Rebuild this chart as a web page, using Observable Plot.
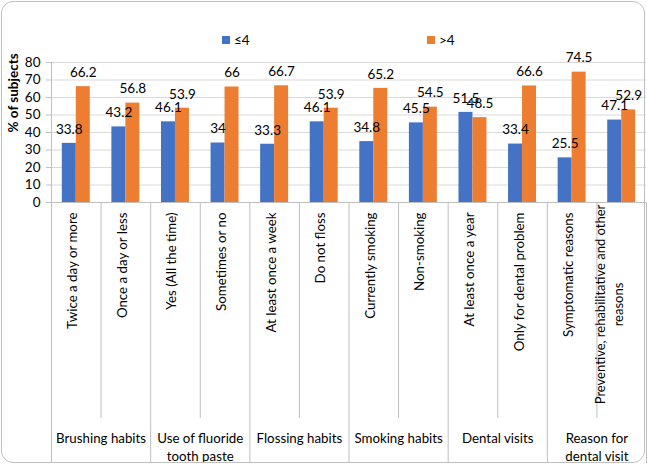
<!DOCTYPE html>
<html>
<head>
<meta charset="utf-8">
<script src="https://cdn.jsdelivr.net/npm/d3@7"></script>
<script src="https://cdn.jsdelivr.net/npm/@observablehq/plot@0.6"></script>
<style>
  html, body { margin: 0; padding: 0; background: #fff; }
  #wrap { position: relative; width: 647px; height: 466px; font-family: Lato, "Open Sans", sans-serif; }
  #border { position: absolute; left: 1px; top: 1px; width: 644px; height: 462px; border: 1px solid #bfbfbf; border-radius: 12px; box-sizing: border-box; pointer-events: none; }
  #legend { position: absolute; top: 32px; left: 0; width: 647px; height: 16px; font-size: 13.5px; color: #000; }
  .lg { position: absolute; display: flex; align-items: center; gap: 4px; }
  .sw { width: 8px; height: 8px; display: inline-block; }
  #chart { position: absolute; left: 0; top: 0; }
</style>
</head>
<body>
<div id="wrap">
  <div id="chart"></div>
  <div id="legend"></div>
  <div id="border"></div>
</div>
<script>
// ---- data ----
const categories = [
  "Twice a day or more",
  "Once a day or less",
  "Yes (All the time)",
  "Sometimes or no",
  "At least once a week",
  "Do not floss",
  "Currently smoking",
  "Non-smoking",
  "At least once a year",
  "Only for dental problem",
  "Symptomatic reasons",
  "Preventive, rehabilitative and other\nreasons"
];
const groups = [
  "Brushing habits",
  "Use of fluoride\ntooth paste",
  "Flossing habits",
  "Smoking habits",
  "Dental visits",
  "Reason for\ndental visit"
];
const seriesNames = ["≤4", ">4"];
const seriesColors = ["#4472C4", "#ED7D31"];
const lowValues  = [33.8, 43.2, 46.1, 34, 33.3, 46.1, 34.8, 45.5, 51.5, 33.4, 25.5, 47.1];
const highValues = [66.2, 56.8, 53.9, 66, 66.7, 53.9, 65.2, 54.5, 48.5, 66.6, 74.5, 52.9];
const yTicks = [0, 10, 20, 30, 40, 50, 60, 70, 80];

// ---- derived tables ----
const barW = 0.282; // fraction of a category slot per bar
const rows = [];
categories.forEach((c, i) => {
  rows.push({i, series: seriesNames[0], value: lowValues[i], x1: i + 0.5 - barW, x2: i + 0.5});
  rows.push({i, series: seriesNames[1], value: highValues[i], x1: i + 0.5, x2: i + 0.5 + barW});
});
const catRows = categories.map((c, i) => ({c, x: i + 0.5}));
const groupRows = groups.map((g, j) => ({g, x: 2 * j + 1}));
const innerBounds = d3.range(1, 12, 2);
const groupBounds = d3.range(0, 13, 2);

const FONT = "Lato, 'Open Sans', sans-serif";
const chart = Plot.plot({
  width: 647,
  height: 466,
  marginLeft: 51,
  marginRight: 1,
  marginTop: 62,
  marginBottom: 264,
  style: {fontFamily: FONT, fontSize: "13px", color: "#000", background: "transparent"},
  x: {type: "linear", domain: [0, 12], axis: null},
  y: {domain: [0, 80], axis: null},
  color: {domain: seriesNames, range: seriesColors},
  marks: [
    Plot.ruleY(yTicks.filter(d => d > 0), {stroke: "#d9d9d9"}),
    Plot.axisY({ticks: yTicks, tickSize: 5, tickPadding: 6, stroke: "#bfbfbf", fill: "#000", fontSize: 13.5, label: null}),
    Plot.ruleX([0], {y1: 0, y2: 80, stroke: "#bfbfbf"}),
    Plot.rectY(rows, {x1: "x1", x2: "x2", y: "value", fill: "series"}),
    Plot.ruleY([0], {stroke: "#bfbfbf"}),
    Plot.axisX({ticks: innerBounds, tickSize: 216, tickFormat: () => "", stroke: "#bfbfbf", label: null}),
    Plot.axisX({ticks: groupBounds, tickSize: 261, tickFormat: () => "", stroke: "#bfbfbf", label: null}),
    Plot.text(rows, {x: d => (d.x1 + d.x2) / 2, y: "value", text: d => String(d.value), dy: -14, fontSize: 13.5, fill: "#000"}),
    Plot.text(catRows.filter(d => !d.c.includes("\n")), {x: "x", text: "c", frameAnchor: "bottom", dx: 1, dy: 10, rotate: -90, textAnchor: "end", fontSize: 13.3, fill: "#000"}),
    Plot.text(catRows.filter(d => d.c.includes("\n")), {x: "x", text: "c", frameAnchor: "bottom", dx: 1, dy: 102, rotate: -90, textAnchor: "middle", lineHeight: 1.4, fontSize: 13, fill: "#000"}),
    Plot.text(groupRows, {x: "x", text: "g", frameAnchor: "bottom", dy: 228, lineAnchor: "top", lineHeight: 1.35, fontSize: 13.3, fill: "#000"}),
    Plot.text(["% of subjects"], {frameAnchor: "left", dx: -38, rotate: -90, fontWeight: "bold", fontSize: 13.5, fill: "#000"})
  ]
});
document.getElementById("chart").appendChild(chart);

// ---- legend ----
const legend = document.getElementById("legend");
const legendLeft = [222, 427];
seriesNames.forEach((s, k) => {
  const el = document.createElement("div");
  el.className = "lg";
  el.style.left = legendLeft[k] + "px";
  el.innerHTML = `<span class="sw" style="background:${seriesColors[k]}"></span><span>${s}</span>`;
  legend.appendChild(el);
});
</script>
</body>
</html>
